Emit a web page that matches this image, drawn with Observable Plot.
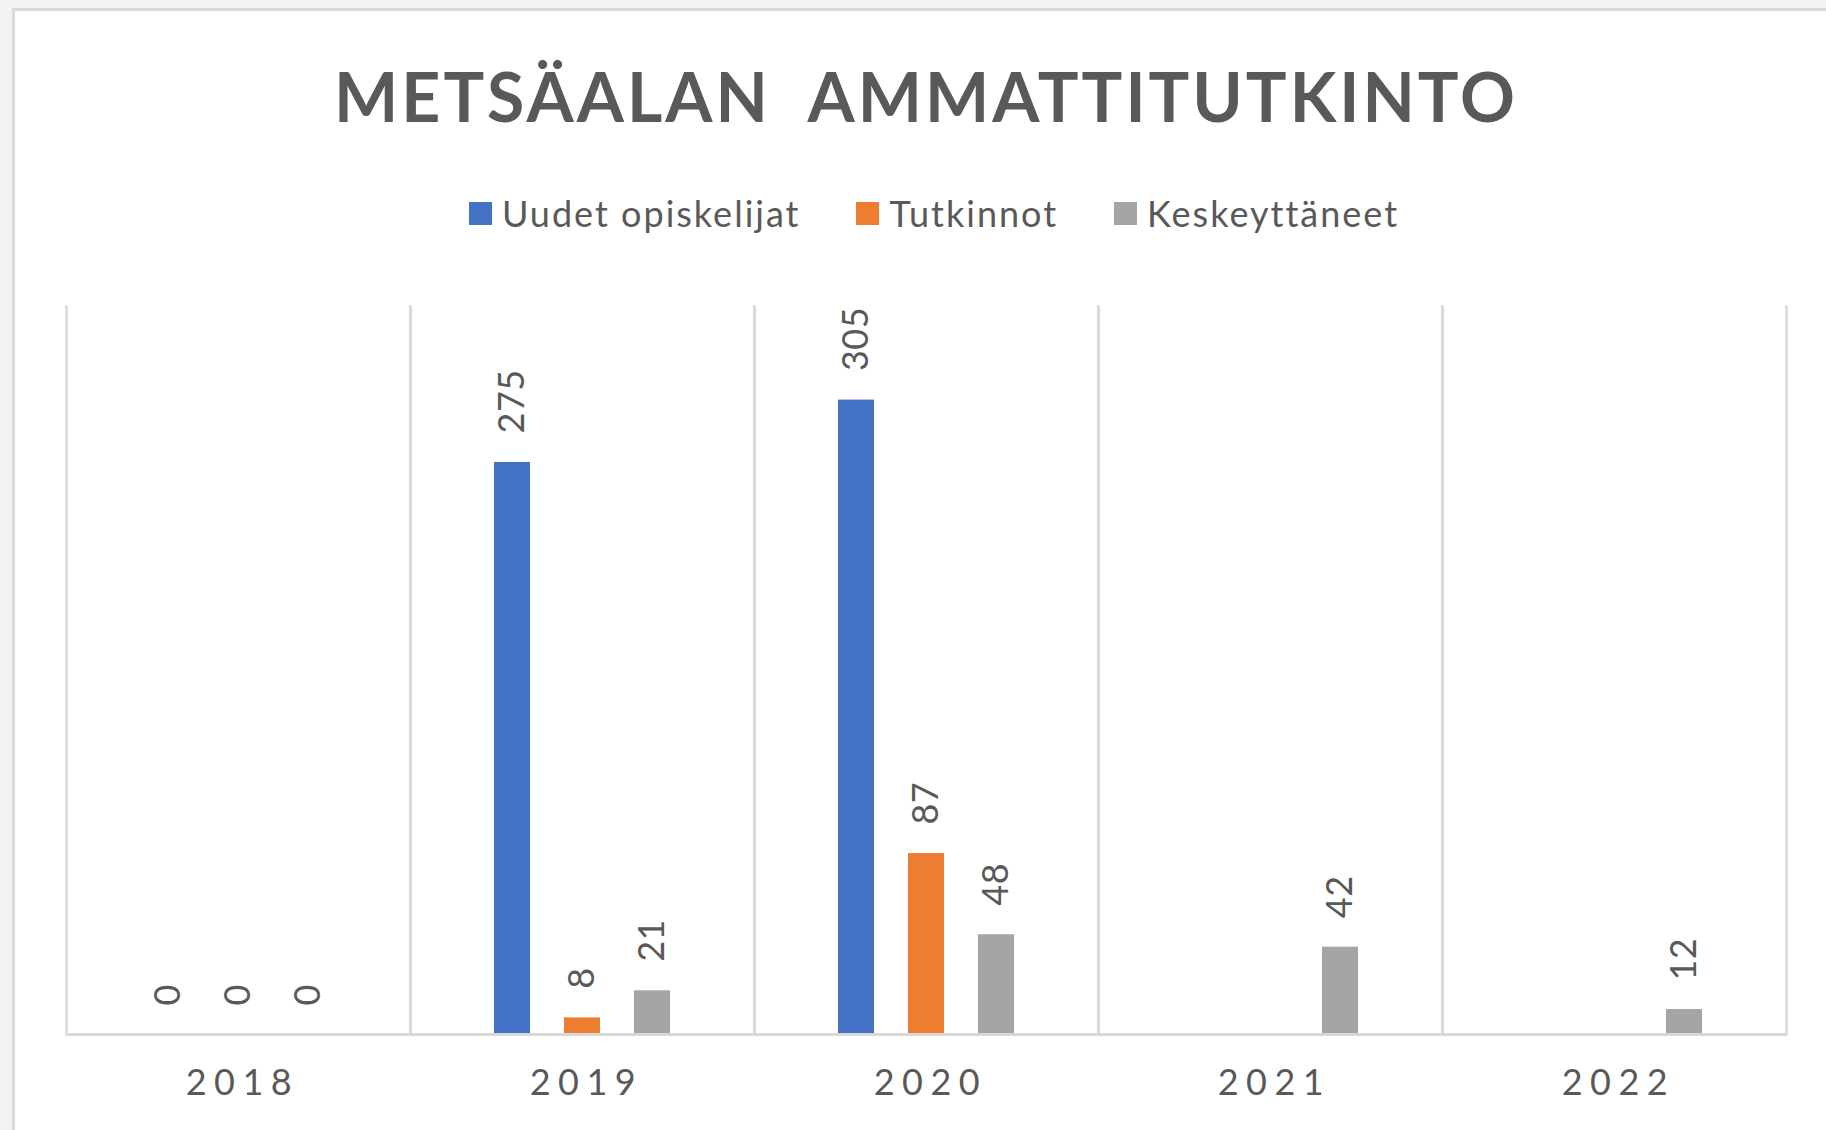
<!DOCTYPE html>
<html>
<head>
<meta charset="utf-8">
<script src="https://cdn.jsdelivr.net/npm/d3@7"></script>
<script src="https://cdn.jsdelivr.net/npm/@observablehq/plot@0.6"></script>
<style>
  html, body { margin: 0; padding: 0; }
  body { width: 1826px; height: 1130px; overflow: hidden; background: #f2f2f2; position: relative; font-family: Lato, "Open Sans", sans-serif; }
  #card { position: absolute; left: 12px; top: 8px; width: 1860px; height: 1160px; background: #fff; border: 3px solid #dadada; }
  #title { position: absolute; left: 0; top: 59px; width: 1852px; text-align: center; font-size: 68px; line-height: 74px; font-weight: 700; color: #595959; letter-spacing: 3px; }
  #legend { position: absolute; left: 0; top: 193px; width: 1868px; height: 40px; display: flex; justify-content: center; align-items: center; font-size: 36px; color: #595959; letter-spacing: 2px; }
  .item { display: flex; align-items: center; margin: 0 28px; }
  .sw { width: 23px; height: 23px; margin-right: 10px; }
  #chart { position: absolute; left: 0; top: 280px; }
  g[aria-description="years"] text { letter-spacing: 7.5px; }
  g[aria-description="values"] text { letter-spacing: 0.5px; }
</style>
</head>
<body>
<div id="card"></div>
<div id="title">METSÄALAN&nbsp;&nbsp;AMMATTITUTKINTO</div>
<div id="legend"></div>
<div id="chart"></div>
<script>
const years = [2018, 2019, 2020, 2021, 2022];
const series = ["Uudet opiskelijat", "Tutkinnot", "Keskeyttäneet"];
const uudetOpiskelijat = [0, 275, 305, null, null];
const tutkinnot = [0, 8, 87, null, null];
const keskeyttaneet = [0, 21, 48, 42, 12];
const colors = ["#4472c4", "#ed7d31", "#a5a5a5"];

const valueLists = [uudetOpiskelijat, tutkinnot, keskeyttaneet];
const data = [];
years.forEach((year, i) => {
  series.forEach((s, j) => {
    data.push({year, series: s, value: valueLists[j][i]});
  });
});
const shown = data.filter(d => d.value != null);

// legend
const legend = document.getElementById("legend");
series.forEach((s, j) => {
  const item = document.createElement("div");
  item.className = "item";
  const sw = document.createElement("span");
  sw.className = "sw";
  sw.style.background = colors[j];
  const t = document.createElement("span");
  t.textContent = s;
  item.appendChild(sw);
  item.appendChild(t);
  legend.appendChild(item);
});

const grid = "#d9d9d9";
const plot = Plot.plot({
  width: 1826,
  height: 850,
  marginLeft: 64,
  marginRight: 38,
  marginTop: 26,
  marginBottom: 96,
  style: {fontFamily: "Lato, 'Open Sans', sans-serif", background: "transparent", overflow: "visible"},
  fx: {domain: years, padding: 0, axis: null},
  x: {domain: series, paddingInner: 0.49, paddingOuter: 1.19, axis: null},
  y: {domain: [0, 350], axis: null},
  color: {domain: series, range: colors},
  marks: [
    Plot.frame({anchor: "left", stroke: grid, strokeWidth: 2.5}),
    Plot.frame({anchor: "right", stroke: grid, strokeWidth: 2.5}),
    Plot.barY(shown, {fx: "year", x: "series", y: "value", fill: "series"}),
    Plot.ruleY([0], {stroke: grid, strokeWidth: 3}),
    Plot.text(shown, {fx: "year", x: "series", y: "value", text: d => String(d.value), rotate: -90, textAnchor: "start", lineAnchor: "middle", dy: -29, fontSize: 36, fill: "#595959", ariaDescription: "values"}),
    Plot.text(years, {fx: d => d, text: d => String(d), frameAnchor: "bottom", lineAnchor: "middle", dy: 49, dx: 4, fontSize: 36, fill: "#595959", ariaDescription: "years"})
  ]
});
document.getElementById("chart").appendChild(plot);
</script>
</body>
</html>
